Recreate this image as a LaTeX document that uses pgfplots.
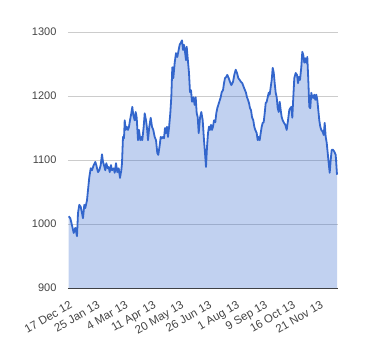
\documentclass[border=0pt]{standalone}
\usepackage{fontspec}
\setmainfont{Liberation Sans}
\usepackage{pgfplots}
\pgfplotsset{compat=1.18}
\usepackage{pgfplotstable}
\definecolor{gblue}{HTML}{3366CC}
\definecolor{gtext}{HTML}{444444}
\definecolor{ggrid}{HTML}{CCCCCC}
\pgfplotstableread{
x y
0.7 1012
2.3 1009
4.0 998
5.7 986
7.3 994
9.0 981
10.0 1017
11.3 1030
12.7 1027
14.0 1017
15.0 1009
16.3 1030
17.3 1025
19.0 1037
20.0 1053
21.3 1073
22.7 1087
24.0 1084
25.7 1092
27.3 1097
28.3 1092
30.0 1081
31.3 1084
32.7 1092
34.0 1109
35.0 1097
36.0 1092
37.3 1084
38.3 1095
39.7 1087
40.7 1089
41.7 1081
43.0 1092
44.0 1084
45.7 1087
46.7 1080
48.0 1095
49.3 1081
50.7 1087
52.0 1072
53.3 1084
54.0 1095
55.0 1136
56.0 1134
56.7 1162
57.7 1147
58.7 1152
60.0 1147
61.0 1152
62.0 1162
63.3 1173
64.3 1183
65.3 1170
66.7 1162
67.7 1175
68.7 1166
70.0 1131
71.0 1147
72.3 1131
73.3 1136
74.3 1131
75.7 1152
76.7 1173
78.0 1162
79.0 1150
80.0 1131
81.3 1152
82.7 1166
84.0 1152
85.3 1147
86.7 1136
88.0 1131
89.3 1111
90.3 1108
91.7 1123
92.7 1136
94.0 1134
95.0 1136
96.0 1134
97.0 1150
98.0 1142
99.0 1152
100.0 1136
101.0 1150
102.3 1173
103.3 1198
104.3 1245
105.3 1228
106.7 1252
108.0 1267
109.3 1261
110.3 1269
111.7 1280
112.7 1283
114.0 1287
115.0 1272
116.0 1280
117.0 1269
118.0 1256
118.7 1277
119.7 1259
121.0 1236
122.0 1206
123.0 1209
124.0 1191
125.3 1198
126.7 1186
127.7 1198
128.7 1173
129.7 1167
130.7 1142
132.0 1166
133.3 1175
134.7 1162
136.0 1131
137.0 1111
138.0 1089
139.0 1120
140.0 1142
141.0 1152
142.0 1147
143.0 1155
144.0 1147
145.0 1152
146.0 1162
147.3 1159
148.3 1173
149.3 1181
150.3 1186
151.3 1191
152.7 1198
153.7 1206
155.0 1209
156.0 1220
157.0 1228
158.3 1230
159.3 1233
160.7 1228
162.0 1222
163.3 1217
165.0 1222
166.3 1233
167.7 1241
169.0 1236
170.3 1228
171.7 1225
173.0 1222
174.3 1220
175.7 1214
177.0 1209
178.0 1205
179.0 1198
180.0 1194
181.0 1189
182.0 1181
183.0 1178
184.0 1167
185.3 1162
186.3 1152
187.3 1147
188.7 1142
189.7 1131
190.7 1136
191.7 1131
192.7 1142
193.7 1152
194.7 1158
195.7 1159
196.7 1173
197.7 1189
198.7 1191
199.7 1198
200.7 1205
201.7 1202
202.7 1214
203.7 1225
204.7 1244
205.7 1237
206.7 1220
207.7 1205
208.7 1198
209.7 1181
210.7 1175
211.7 1191
212.7 1178
213.7 1167
214.7 1162
216.0 1158
217.3 1155
218.7 1147
220.0 1162
221.3 1178
222.3 1181
223.3 1183
224.3 1166
225.3 1198
226.3 1228
227.7 1236
229.0 1233
230.0 1220
231.0 1230
232.0 1225
233.3 1245
234.3 1269
235.3 1264
236.3 1252
237.3 1259
238.3 1252
239.3 1261
240.3 1225
241.3 1183
242.3 1181
243.3 1205
244.3 1198
245.3 1197
246.3 1202
247.3 1194
248.3 1202
249.3 1194
250.3 1178
251.3 1162
252.3 1152
253.3 1147
254.7 1144
255.7 1139
256.7 1158
257.7 1136
258.7 1127
259.7 1111
260.7 1095
261.7 1080
262.7 1100
263.7 1116
265.0 1116
266.3 1113
267.7 1108
269.0 1077
}\prices
\begin{document}
\begin{tikzpicture}
\begin{axis}[
  scale only axis,
  width=270pt, height=256pt,
  xmin=0, xmax=270,
  ymin=900, ymax=1300,
  ytick={900,1000,1100,1200,1300},
  xtick={2,29.9,57.8,85.7,113.6,141.5,169.4,197.3,225.2,253.1},
  xticklabels={17 Dec 12,25 Jan 13,4 Mar 13,11 Apr 13,20 May 13,26 Jun 13,1 Aug 13,9 Sep 13,16 Oct 13,21 Nov 13},
  /pgf/number format/assume math mode=true,
  /pgf/number format/1000 sep={},
  ymajorgrids,
  grid style={draw=ggrid, line width=0.8pt},
  axis lines*=left,
  y axis line style={draw=none},
  x axis line style={draw=black!75, line width=1pt},
  major tick style={draw=none},
  yticklabel style={font=\fontsize{11}{13}\selectfont, text=gtext, xshift=-8pt},
  xticklabel style={font=\fontsize{11.5}{13}\selectfont, text=gtext, rotate=30, anchor=north east, inner sep=1pt, yshift=-9pt, xshift=-6pt},
  clip=true,
]
\addplot[draw=none, fill=gblue, fill opacity=0.3] table[x=x,y=y] {\prices} \closedcycle;
\addplot[draw=gblue, line width=1.8pt, line join=round] table[x=x,y=y] {\prices};
\end{axis}
\path (current axis.south west) ++(-68pt,-72pt) rectangle ++(380pt,360pt);
\end{tikzpicture}
\end{document}
